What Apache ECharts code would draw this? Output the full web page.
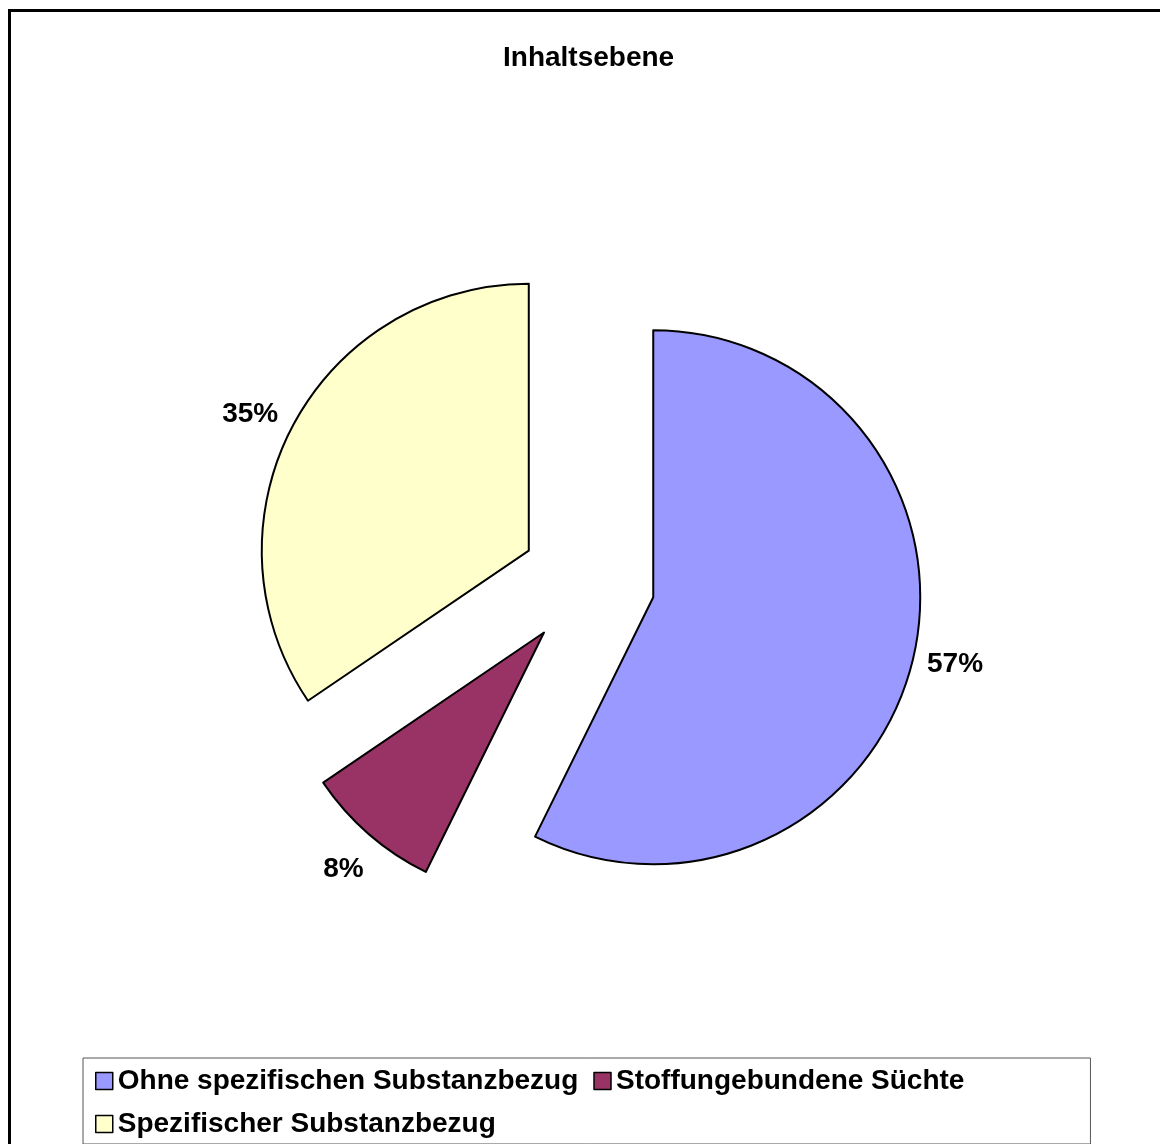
<!DOCTYPE html>
<html>
<head>
<meta charset="utf-8">
<script src="https://cdn.jsdelivr.net/npm/echarts@6/dist/echarts.min.js"></script>
<style>
  html, body { margin: 0; padding: 0; width: 1160px; height: 1144px; overflow: hidden; background: #fff; }
  #frame { position: absolute; left: 8px; top: 9px; width: 1200px; height: 1200px; border: 3px solid #000; box-sizing: border-box; }
  #chart { position: absolute; left: 0; top: 0; width: 1160px; height: 1144px; }
</style>
</head>
<body>
<div id="frame"></div>
<div id="chart"></div>
<script>
const titleText = 'Inhaltsebene';
const categories = ['Ohne spezifischen Substanzbezug', 'Stoffungebundene Süchte', 'Spezifischer Substanzbezug'];
const values = [57.3, 8.2, 34.5];
const colors = ['#9999FF', '#993366', '#FFFFCC'];

const FONT = "'Liberation Sans', Arial, sans-serif";
const CENTER = [588, 582];
const R = 267;
const OFFSET = 67;

const pieData = categories.map((name, i) => ({
  name: name,
  value: values[i],
  selected: true,
  itemStyle: { color: colors[i] }
}));
const labelData = categories.map((name, i) => ({
  name: name,
  value: values[i],
  selected: true
}));
const labelNudge = [[-3, -4], [5, 1], [-2, 10]];

const chart = echarts.init(document.getElementById('chart'), null, { renderer: 'canvas' });
chart.setOption({
  animation: false,
  backgroundColor: 'transparent',
  title: {
    text: titleText,
    left: 498,
    top: 39,
    textStyle: { fontFamily: FONT, fontSize: 28, fontWeight: 'bold', color: '#000' }
  },
  legend: {
    data: categories,
    left: 83,
    top: 1058,
    width: 920,
    orient: 'horizontal',
    icon: 'rect',
    itemWidth: 17,
    itemHeight: 17,
    itemGap: 15,
    padding: [9, 126, 6, 12],
    borderColor: '#555',
    borderWidth: 1,
    backgroundColor: '#fff',
    selectedMode: false,
    itemStyle: { borderColor: '#000', borderWidth: 1.5 },
    textStyle: { fontFamily: FONT, fontSize: 28, fontWeight: 'bold', color: '#000' }
  },
  series: [
    {
      type: 'pie',
      center: CENTER,
      radius: R,
      startAngle: 90,
      clockwise: true,
      selectedMode: 'multiple',
      selectedOffset: OFFSET,
      avoidLabelOverlap: false,
      label: { show: false },
      labelLine: { show: false },
      itemStyle: { borderColor: '#000', borderWidth: 2 },
      select: { itemStyle: { borderColor: '#000', borderWidth: 2 } },
      emphasis: { disabled: true },
      data: pieData
    },
    {
      type: 'pie',
      center: CENTER,
      radius: [R, R + 86],
      startAngle: 90,
      clockwise: true,
      selectedMode: 'multiple',
      selectedOffset: OFFSET,
      silent: true,
      avoidLabelOverlap: false,
      itemStyle: { color: 'rgba(0,0,0,0)', borderWidth: 0 },
      select: { itemStyle: { color: 'rgba(0,0,0,0)', borderWidth: 0 } },
      emphasis: { disabled: true },
      labelLine: { show: false },
      labelLayout: (p) => ({ dx: labelNudge[p.dataIndex][0], dy: labelNudge[p.dataIndex][1] }),
      label: {
        show: true,
        position: 'inside',
        formatter: (p) => Math.round(p.value) + '%',
        fontFamily: FONT,
        fontSize: 28,
        fontWeight: 'bold',
        color: '#000'
      },
      data: labelData
    }
  ]
});
</script>
</body>
</html>
